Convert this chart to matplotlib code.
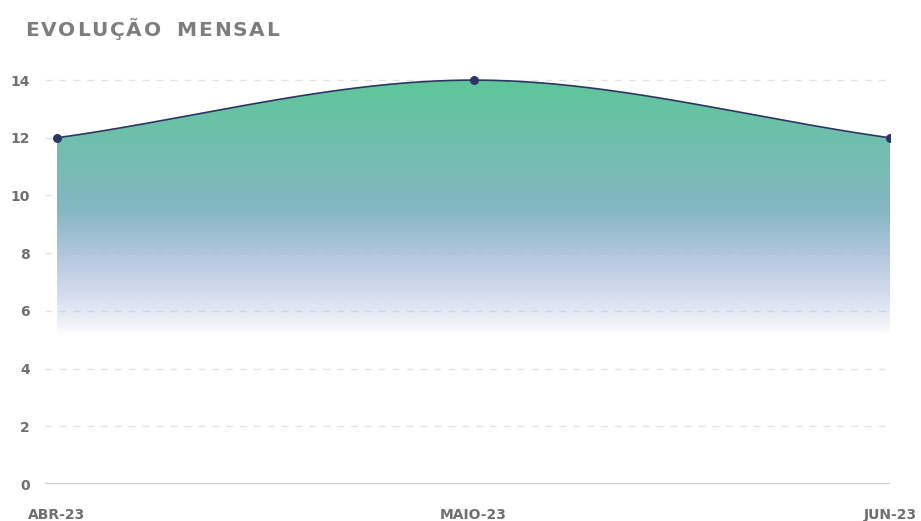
import numpy as np
import matplotlib
matplotlib.use("Agg")
from matplotlib import pyplot as plt
from matplotlib.colors import to_rgb

# monthly values
months = ["ABR-23", "MAIO-23", "JUN-23"]
values = [12, 14, 12]
y_ticks = [0, 2, 4, 6, 8, 10, 12, 14]
title = "EVOLUÇÃO  MENSAL"

LINE = "#2d3566"
TOP = "#5ec69a"
BOTTOM = "#9aaed8"


def smooth_curve(xs, ys, n=200):
	# monotone cubic hermite through the points
	xs = np.asarray(xs, float)
	ys = np.asarray(ys, float)
	d = np.diff(ys) / np.diff(xs)
	m = np.zeros_like(ys)
	m[0] = d[0]
	m[-1] = d[-1]
	for i in range(1, len(ys) - 1):
		if d[i - 1] * d[i] > 0:
			m[i] = 2 / (1 / d[i - 1] + 1 / d[i])
	px, py = [], []
	for i in range(len(xs) - 1):
		h = xs[i + 1] - xs[i]
		t = np.linspace(0, 1, n)
		h00 = 2 * t**3 - 3 * t**2 + 1
		h10 = t**3 - 2 * t**2 + t
		h01 = -2 * t**3 + 3 * t**2
		h11 = t**3 - t**2
		px.append(xs[i] + t * h)
		py.append(h00 * ys[i] + h10 * h * m[i] + h01 * ys[i + 1] + h11 * h * m[i + 1])
	return np.concatenate(px), np.concatenate(py)


fig = plt.figure(figsize=(9.21, 5.21), dpi=100)
ax = fig.add_axes([45 / 921, 1 - 484 / 521, 845 / 921, 414 / 521])
x = np.arange(len(months))
ymax = 14.35
ax.set_xlim(-12 / 416.5, 2)
ax.set_ylim(0, ymax)

cx, cy = smooth_curve(x, values)

# gradient area under the line
grad_h = 400
yy = np.linspace(ymax, 0, grad_h)
c_top = np.array(to_rgb(TOP))
c_bot = np.array(to_rgb(BOTTOM))
img = np.zeros((grad_h, 2, 4))
for i, yv in enumerate(yy):
	f = np.clip((14 - yv) / (14 - 7.0), 0, 1)
	img[i, :, :3] = c_top * (1 - f) + c_bot * f
	img[i, :, 3] = np.clip((yv - 5.2) / (9.5 - 5.2), 0, 1) ** 0.75
poly = ax.fill_between(cx, cy, 0, color="none", lw=0)
im = ax.imshow(img, extent=[x[0], x[-1], 0, ymax], aspect="auto", zorder=2, interpolation="bilinear")
im.set_clip_path(poly.get_paths()[0], transform=ax.transData)

ax.plot(cx, cy, color=LINE, lw=1.2, zorder=4)
ax.scatter(x, values, s=30, color=LINE, zorder=5)

# grid
for t in y_ticks[1:]:
	ax.axhline(t, color="#e3e3e3", lw=1, ls=(0, (5, 5)), zorder=1)
ax.axhline(0, color="#c8c8c8", lw=1.5, zorder=3)

for s in ax.spines.values():
	s.set_visible(False)
ax.set_yticks(y_ticks)
ax.set_yticklabels([str(t) for t in y_ticks])
ax.set_xticks(x)
ax.set_xticklabels(months)
ax.tick_params(length=0, labelsize=10, labelcolor="#6f6f6f")
ax.tick_params(axis="y", pad=11)
ax.tick_params(axis="x", pad=17)
for lab in ax.get_xticklabels() + ax.get_yticklabels():
	lab.set_fontweight("bold")

# title with extra letter spacing
fig.canvas.draw()
renderer = fig.canvas.get_renderer()
xpos = 25
for ch in title:
	t = fig.text(xpos / 921, 1 - 31 / 521, ch, fontsize=14.5, fontweight="bold",
		color="#7d7d7d", va="center", ha="left")
	w = t.get_window_extent(renderer).width if ch != " " else 5
	xpos += w + 1.8

fig.savefig("out.png", dpi=100)
